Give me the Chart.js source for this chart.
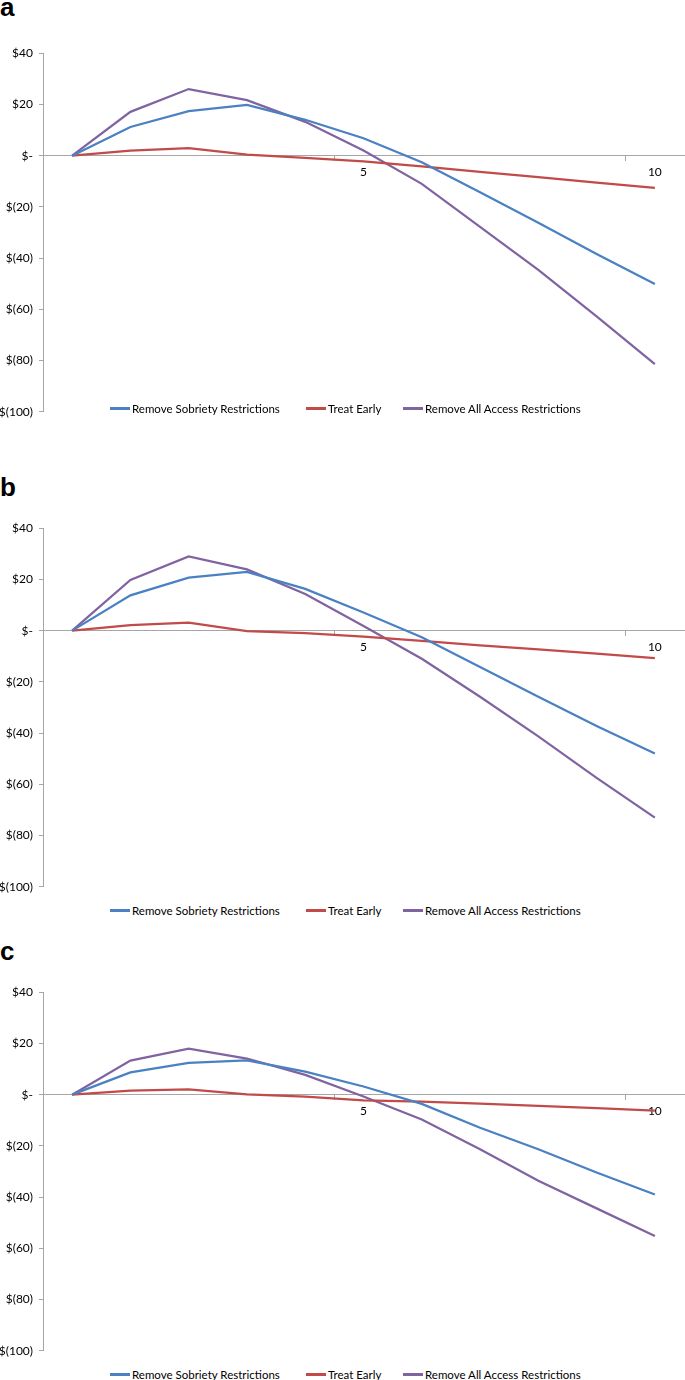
<!DOCTYPE html>
<html>
<head>
<meta charset="utf-8">
<title>Net savings by year</title>
<script src="https://cdn.jsdelivr.net/npm/chart.js@4.4.1/dist/chart.umd.min.js"></script>
<style>
  body { margin: 0; background: #fff; }
  #page { position: relative; width: 685px; height: 1380px; overflow: hidden; }
  .panel-label { position: absolute; left: 0; font: bold 26px "Liberation Sans", Arial, sans-serif; line-height: 26px; color: #000; }
  .chart-canvas { position: absolute; left: 0; }
  .legend { position: absolute; left: 0; width: 685px; height: 14px; font: 11.5px Lato, "Open Sans", sans-serif; color: #000; }
  .legend-item { position: absolute; top: 0; display: flex; align-items: center; white-space: nowrap; height: 14px; }
  .legend-swatch { display: inline-block; width: 20px; height: 3px; margin-right: 2px; }
</style>
</head>
<body>
<div id="page"></div>
<script>
// Years after start (category axis), only 5 and 10 are labelled
const years = ["0", "1", "2", "3", "4", "5", "6", "7", "8", "9", "10"];
const labelledYears = ["5", "10"];

const seriesNames = ["Remove Sobriety Restrictions", "Treat Early", "Remove All Access Restrictions"];
const seriesColors = ["#4A81C2", "#C04B49", "#8064A2"];

// Panel a
const aSobriety = [0, 11.2, 17.4, 19.8, 14.0, 6.8, -2.6, -14.3, -26.2, -38.4, -50.1];
const aTreatEarly = [0, 2.0, 2.9, 0.4, -0.9, -2.2, -4.2, -6.3, -8.4, -10.5, -12.6];
const aAllAccess = [0, 17.1, 26.0, 21.7, 13.2, 2.0, -11.0, -27.8, -44.6, -62.7, -81.4];

// Panel b
const bSobriety = [0, 13.8, 20.7, 22.9, 16.3, 7.1, -2.6, -14.2, -25.8, -37.2, -48.0];
const bTreatEarly = [0, 2.2, 3.1, -0.2, -1.0, -2.3, -4.0, -5.7, -7.3, -9.0, -10.7];
const bAllAccess = [0, 19.8, 29.0, 23.9, 14.3, 1.8, -11.0, -25.8, -41.3, -57.5, -73.0];

// Panel c
const cSobriety = [0, 8.7, 12.4, 13.4, 9.0, 3.2, -3.6, -12.9, -21.3, -30.4, -39.0];
const cTreatEarly = [0, 1.6, 2.1, 0.1, -0.8, -2.2, -2.7, -3.5, -4.4, -5.3, -6.2];
const cAllAccess = [0, 13.3, 18.0, 14.1, 7.7, -0.7, -9.7, -21.3, -33.6, -44.4, -55.2];

// Y axis range and step
const yMin = -100;
const yMax = 40;
const yStep = 20;

const axisGrey = "#a6a6a6";

document.addEventListener("DOMContentLoaded", initializePage);

function initializePage() {
  const page = document.getElementById("page");
  buildPanel(page, "a", -6, 40, 401, [aSobriety, aTreatEarly, aAllAccess]);
  buildPanel(page, "b", 474, 515, 903, [bSobriety, bTreatEarly, bAllAccess]);
  buildPanel(page, "c", 938, 979, 1367, [cSobriety, cTreatEarly, cAllAccess]);
}

// One panel: letter, chart canvas and legend row
function buildPanel(page, letter, labelTop, canvasTop, legendTop, seriesData) {
  const label = document.createElement("div");
  label.className = "panel-label";
  label.style.top = labelTop + "px";
  label.textContent = letter;
  page.appendChild(label);

  const canvas = document.createElement("canvas");
  canvas.className = "chart-canvas";
  canvas.width = 685;
  canvas.height = 385;
  canvas.style.top = canvasTop + "px";
  page.appendChild(canvas);

  renderChart(canvas, seriesData);
  buildLegend(page, legendTop);
}

// Format y values like Excel accounting: $40, $-, $(20)
function formatDollars(value) {
  if (value === 0) return "$-";
  if (value < 0) return "$(" + Math.abs(value) + ")";
  return "$" + value;
}

function renderChart(canvas, seriesData) {
  new Chart(canvas.getContext("2d"), {
    type: "line",
    data: {
      labels: years,
      datasets: seriesData.map((values, i) => ({
        label: seriesNames[i],
        data: values,
        borderColor: seriesColors[i],
        backgroundColor: seriesColors[i],
        borderWidth: 2.25,
        pointRadius: 0,
        tension: 0,
        fill: false,
      })),
    },
    options: {
      responsive: false,
      animation: false,
      devicePixelRatio: 1,
      layout: { padding: { top: 12, bottom: 12, left: 0, right: 1 } },
      plugins: { legend: { display: false }, tooltip: { enabled: false } },
      scales: {
        x: {
          type: "category",
          offset: true,
          position: { y: 0 },
          border: { color: axisGrey, width: 1 },
          grid: {
            offset: true,
            drawOnChartArea: false,
            drawTicks: true,
            tickLength: 5,
            color: ctx => (ctx.index === 5 || ctx.index === 10 ? axisGrey : "rgba(0,0,0,0)"),
          },
          ticks: {
            autoSkip: false,
            maxRotation: 0,
            padding: 4,
            color: "#000",
            font: { family: "Lato", size: 12 },
            callback: function (value) {
              const lbl = this.getLabelForValue(value);
              return labelledYears.includes(lbl) ? lbl : "";
            },
          },
        },
        y: {
          min: yMin,
          max: yMax,
          afterFit: scale => { scale.width = 43; },
          border: { color: axisGrey, width: 1 },
          grid: { drawOnChartArea: false, drawTicks: true, tickLength: 4, color: axisGrey },
          ticks: {
            stepSize: yStep,
            padding: 6,
            color: "#000",
            font: { family: "Lato", size: 12 },
            callback: value => formatDollars(value),
          },
        },
      },
    },
  });
}

// Legend row drawn as html text under each chart
function buildLegend(page, top) {
  const itemLeft = [110, 306, 403];
  const legend = document.createElement("div");
  legend.className = "legend";
  legend.style.top = top + "px";
  seriesNames.forEach((name, i) => {
    const item = document.createElement("div");
    item.className = "legend-item";
    item.style.left = itemLeft[i] + "px";
    const swatch = document.createElement("span");
    swatch.className = "legend-swatch";
    swatch.style.background = seriesColors[i];
    const text = document.createElement("span");
    text.textContent = name;
    item.appendChild(swatch);
    item.appendChild(text);
    legend.appendChild(item);
  });
  page.appendChild(legend);
}
</script>
</body>
</html>
